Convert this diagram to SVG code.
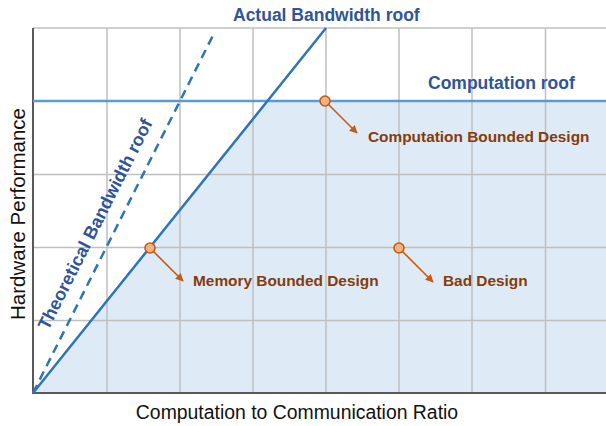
<svg xmlns="http://www.w3.org/2000/svg" width="606" height="426" viewBox="0 0 606 426">
  <style>
    .grid { stroke: #BFBFBF; stroke-width: 1.5; fill: none; }
    .axis { stroke: #595959; stroke-width: 2; fill: none; }
    .roof { font-family: "Liberation Sans", Arial, sans-serif; font-weight: bold; font-size: 17.5px; fill: #2F5597; }
    .lbl { font-family: "Liberation Sans", Arial, sans-serif; font-weight: bold; font-size: 15.4px; fill: #843C0C; }
    .axlbl { font-family: "Liberation Sans", Arial, sans-serif; font-size: 19.4px; fill: #111; }
    .pt { fill: #F4B183; stroke: #C55A11; stroke-width: 1.6; }
    .arr { stroke: #C55A11; stroke-width: 1.6; fill: none; marker-end: url(#ah); }
  </style>
  <defs>
    <marker id="ah" viewBox="0 0 10 10" refX="9" refY="5" markerWidth="5" markerHeight="5" orient="auto" markerUnits="strokeWidth">
      <path d="M0,0 L10,5 L0,10 Z" fill="#C55A11"/>
    </marker>
  </defs>
  <rect width="606" height="426" fill="#ffffff"/>
  <g id="region">
    <polygon points="33,393 267.4,101 606,101 606,393" fill="#DEEAF6"/>
  </g>
  <g id="grid">
    <line class="grid" x1="33" y1="28" x2="606" y2="28"/>
    <line class="grid" x1="33" y1="174.5" x2="606" y2="174.5"/>
    <line class="grid" x1="33" y1="247.5" x2="606" y2="247.5"/>
    <line class="grid" x1="33" y1="320.5" x2="606" y2="320.5"/>
    <line class="grid" x1="107" y1="28" x2="107" y2="393"/>
    <line class="grid" x1="180" y1="28" x2="180" y2="393"/>
    <line class="grid" x1="253" y1="28" x2="253" y2="393"/>
    <line class="grid" x1="326" y1="28" x2="326" y2="393"/>
    <line class="grid" x1="399" y1="28" x2="399" y2="393"/>
    <line class="grid" x1="472" y1="28" x2="472" y2="393"/>
    <line class="grid" x1="545.5" y1="28" x2="545.5" y2="393"/>
  </g>
  <g id="axes">
    <line class="axis" x1="33" y1="28" x2="33" y2="393"/>
    <line class="axis" x1="32" y1="393" x2="606" y2="393"/>
  </g>
  <g id="computation-roof">
    <line x1="33" y1="101" x2="606" y2="101" stroke="#5B9BD5" stroke-width="2.5"/>
    <text class="roof" x="428" y="89">Computation roof</text>
  </g>
  <g id="theoretical-bandwidth-roof">
    <line x1="33" y1="393" x2="214.2" y2="33" stroke="#2E75B6" stroke-width="2.5" stroke-dasharray="9,6"/>
    <text class="roof" text-anchor="middle" style="font-size:18px" transform="translate(100.5,227) rotate(-63.3)">Theoretical Bandwidth roof</text>
  </g>
  <g id="actual-bandwidth-roof">
    <line x1="33" y1="393" x2="326" y2="28" stroke="#2E75B6" stroke-width="2.5"/>
    <text class="roof" x="233" y="21">Actual Bandwidth roof</text>
  </g>
  <g id="connectors">
    <line class="arr" x1="325" y1="101" x2="357" y2="133"/>
    <line class="arr" x1="150" y1="248" x2="183" y2="281"/>
    <line class="arr" x1="399" y1="248" x2="433" y2="282"/>
  </g>
  <g id="computation-bounded-design">
    <circle class="pt" cx="325" cy="101" r="5"/>
    <text class="lbl" x="368" y="142">Computation Bounded Design</text>
  </g>
  <g id="memory-bounded-design">
    <circle class="pt" cx="150" cy="248" r="5"/>
    <text class="lbl" x="193" y="286">Memory Bounded Design</text>
  </g>
  <g id="bad-design">
    <circle class="pt" cx="399" cy="248" r="5"/>
    <text class="lbl" x="443" y="286">Bad Design</text>
  </g>
  <g id="axis-labels">
    <text class="axlbl" x="297" y="419" text-anchor="middle">Computation to Communication Ratio</text>
    <text class="axlbl" text-anchor="middle" style="font-size:20.5px" transform="translate(25,214) rotate(-90)">Hardware Performance</text>
  </g>
</svg>
